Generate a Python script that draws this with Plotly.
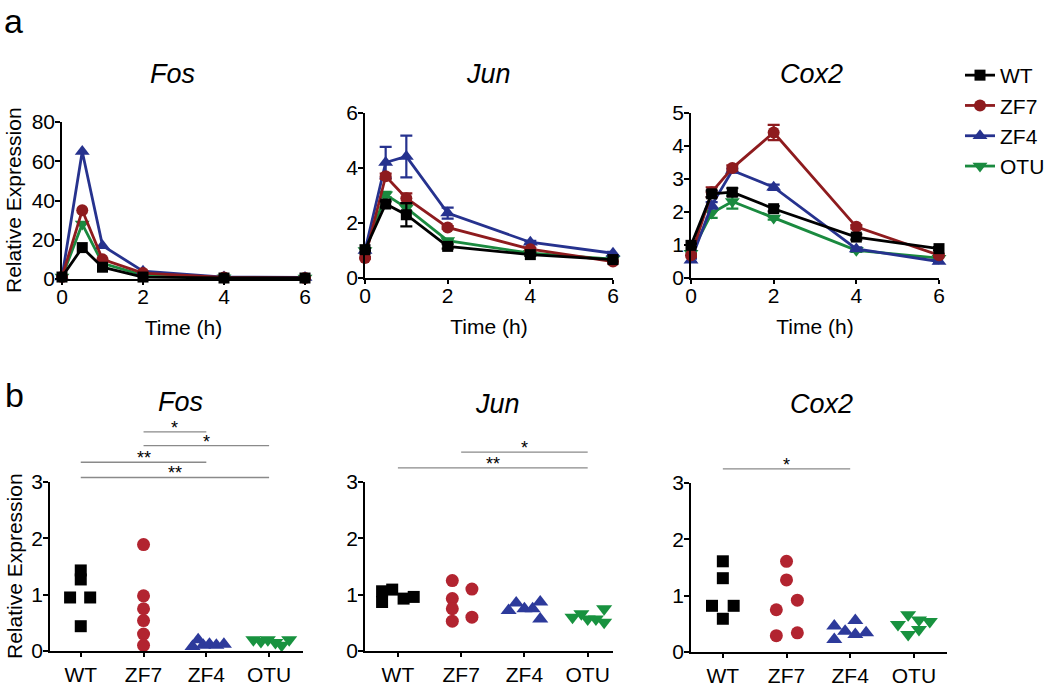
import plotly.graph_objects as go

# ---------------- data ----------------
time_h = [0, 0.5, 1, 2, 4, 6]
groups = ["WT", "ZF7", "ZF4", "OTU"]

# panel a: time course (mean, sem)
fos_wt = [1, 16, 6, 1, 0.5, 0.5]
fos_zf7 = [1, 35, 10, 3, 0.8, 0.5]
fos_zf4 = [1, 65, 17, 4, 1, 0.8]
fos_otu = [1, 28, 8, 2, 0.6, 0.5]

jun_wt = [1.03, 2.69, 2.3, 1.15, 0.85, 0.67]
jun_zf7 = [0.73, 3.7, 2.9, 1.84, 1.05, 0.6]
jun_zf4 = [1.0, 4.2, 4.42, 2.36, 1.3, 0.9]
jun_otu = [1.0, 3.03, 2.55, 1.36, 0.9, 0.69]
jun_wt_err = [0.05, 0.1, 0.42, 0.08, 0.05, 0.03]
jun_zf7_err = [0.03, 0.1, 0.18, 0.05, 0.05, 0.03]
jun_zf4_err = [0.05, 0.57, 0.76, 0.2, 0.05, 0.05]
jun_otu_err = [0.03, 0.1, 0.12, 0.05, 0.03, 0.03]

cox2_wt = [0.99, 2.55, 2.6, 2.1, 1.24, 0.89]
cox2_zf7 = [0.69, 2.6, 3.33, 4.41, 1.55, 0.69]
cox2_zf4 = [0.54, 2.2, 3.26, 2.75, 0.88, 0.5]
cox2_otu = [0.75, 1.97, 2.32, 1.82, 0.84, 0.6]
cox2_wt_err = [0.05, 0.1, 0.12, 0.08, 0.08, 0.05]
cox2_zf7_err = [0.05, 0.15, 0.08, 0.23, 0.05, 0.05]
cox2_zf4_err = [0.05, 0.1, 0.05, 0.08, 0.05, 0.05]
cox2_otu_err = [0.05, 0.15, 0.22, 0.05, 0.05, 0.05]

# panel b: individual values (value, jitter within category)
fosb_wt = [1.43, 1.27, 0.95, 0.95, 0.44]
fosb_wt_dx = [0, 0, -0.17, 0.15, 0]
fosb_zf7 = [1.89, 0.98, 0.75, 0.54, 0.3, 0.1]
fosb_zf7_dx = [0, 0, 0, 0, 0, 0]
fosb_zf4 = [0.08, 0.2, 0.1, 0.12, 0.1, 0.12]
fosb_zf4_dx = [-0.22, -0.13, -0.05, 0.05, 0.16, 0.28]
fosb_otu = [0.2, 0.17, 0.2, 0.15, 0.1, 0.2]
fosb_otu_dx = [-0.25, -0.13, -0.02, 0.1, 0.2, 0.32]

junb_wt = [0.87, 1.06, 1.09, 0.93, 0.96]
junb_wt_dx = [-0.25, -0.25, -0.09, 0.09, 0.25]
junb_zf7 = [1.25, 0.93, 0.75, 0.53, 1.1, 0.6]
junb_zf7_dx = [-0.14, -0.14, -0.14, -0.14, 0.17, 0.17]
junb_zf4 = [0.72, 0.85, 0.75, 0.75, 0.87, 0.57]
junb_zf4_dx = [-0.25, -0.13, 0, 0.13, 0.25, 0.25]
junb_otu = [0.6, 0.66, 0.57, 0.57, 0.75, 0.51]
junb_otu_dx = [-0.24, -0.1, 0, 0.13, 0.26, 0.26]

coxb_wt = [1.61, 1.31, 0.82, 0.82, 0.59]
coxb_wt_dx = [0, 0, -0.17, 0.17, 0]
coxb_zf7 = [1.61, 1.28, 0.92, 0.75, 0.29, 0.34]
coxb_zf7_dx = [0, 0, 0.17, -0.16, -0.16, 0.17]
coxb_zf4 = [0.22, 0.46, 0.37, 0.56, 0.31, 0.34]
coxb_zf4_dx = [-0.25, -0.25, -0.08, 0.08, 0.08, 0.25]
coxb_otu = [0.49, 0.66, 0.31, 0.57, 0.4, 0.54]
coxb_otu_dx = [-0.25, -0.09, -0.09, 0.08, 0.08, 0.25]

# significance comparisons: (group a, group b, level, label)
fos_sig = [("ZF7", "ZF4", 3.89, "*"), ("ZF7", "OTU", 3.645, "*"),
           ("WT", "ZF4", 3.35, "**"), ("WT", "OTU", 3.08, "**")]
jun_sig = [("ZF7", "OTU", 3.53, "*"), ("WT", "OTU", 3.25, "**")]
cox_sig = [("WT", "ZF4", 3.25, "*")]

# ---------------- style ----------------
W, H = 1050, 687
FONT = "Liberation Sans, Arial, Helvetica, sans-serif"
line_col = {"WT": "#000000", "ZF7": "#8E1B1E", "ZF4": "#26328E", "OTU": "#1A8A3F"}
dot_col = {"WT": "#000000", "ZF7": "#B22430", "ZF4": "#2D3A9B", "OTU": "#18923F"}
symbols = {"WT": "square", "ZF7": "circle", "ZF4": "triangle-up", "OTU": "triangle-down"}
msize = {"WT": 11, "ZF7": 12, "ZF4": 13, "OTU": 13}


def px_x(p):
    return p / W


def px_y(p):
    return 1 - p / H


fig = go.Figure()

top = [
    ("x", "y", {"WT": (fos_wt, None), "ZF7": (fos_zf7, None), "ZF4": (fos_zf4, None), "OTU": (fos_otu, None)}),
    ("x2", "y2", {"WT": (jun_wt, jun_wt_err), "ZF7": (jun_zf7, jun_zf7_err),
                  "ZF4": (jun_zf4, jun_zf4_err), "OTU": (jun_otu, jun_otu_err)}),
    ("x3", "y3", {"WT": (cox2_wt, cox2_wt_err), "ZF7": (cox2_zf7, cox2_zf7_err),
                  "ZF4": (cox2_zf4, cox2_zf4_err), "OTU": (cox2_otu, cox2_otu_err)}),
]
draw_order = ["OTU", "ZF4", "ZF7", "WT"]
rank = {g: i for i, g in enumerate(groups)}
for pi, (xa, ya, series) in enumerate(top):
    for g in draw_order:
        vals, err = series[g]
        fig.add_trace(go.Scatter(
            x=time_h, y=vals, xaxis=xa, yaxis=ya, name=g,
            mode="lines+markers", cliponaxis=False,
            line=dict(color=line_col[g], width=2.8),
            marker=dict(symbol=symbols[g], size=msize[g], color=line_col[g]),
            error_y=dict(type="data", array=err, visible=err is not None,
                         color=line_col[g], thickness=2.2, width=6),
            showlegend=(pi == 2), legendrank=rank[g],
        ))

bottom = [
    ("x4", "y4", {"WT": (fosb_wt, fosb_wt_dx), "ZF7": (fosb_zf7, fosb_zf7_dx),
                  "ZF4": (fosb_zf4, fosb_zf4_dx), "OTU": (fosb_otu, fosb_otu_dx)}, fos_sig),
    ("x5", "y5", {"WT": (junb_wt, junb_wt_dx), "ZF7": (junb_zf7, junb_zf7_dx),
                  "ZF4": (junb_zf4, junb_zf4_dx), "OTU": (junb_otu, junb_otu_dx)}, jun_sig),
    ("x6", "y6", {"WT": (coxb_wt, coxb_wt_dx), "ZF7": (coxb_zf7, coxb_zf7_dx),
                  "ZF4": (coxb_zf4, coxb_zf4_dx), "OTU": (coxb_otu, coxb_otu_dx)}, cox_sig),
]
shapes = []
annotations = []
for xa, ya, series, sig in bottom:
    for gi, g in enumerate(groups):
        vals, dx = series[g]
        fig.add_trace(go.Scatter(
            x=[gi + d for d in dx], y=vals, xaxis=xa, yaxis=ya, mode="markers",
            cliponaxis=False, showlegend=False, name=g,
            marker=dict(symbol=symbols[g], size=msize[g] + 1, color=dot_col[g]),
        ))
    for a, b, lvl, lab in sig:
        xa_i, xb_i = groups.index(a), groups.index(b)
        shapes.append(dict(type="line", xref=xa, yref=ya + " domain",
                           x0=xa_i, x1=xb_i, y0=lvl / 3, y1=lvl / 3,
                           line=dict(color="#8a8a8a", width=1.4)))
        annotations.append(dict(xref=xa, yref=ya + " domain", x=(xa_i + xb_i) / 2, y=lvl / 3,
                                text=lab, showarrow=False, yanchor="middle", yshift=4,
                                font=dict(size=18, color="black", family=FONT)))

TF = 21
axis_common = dict(showline=True, linecolor="black", linewidth=1.5, ticks="outside",
                   ticklen=5, tickwidth=1.5, tickcolor="black", showgrid=False,
                   zeroline=False, tickfont=dict(size=TF, color="black", family=FONT))
ytick = dict(ticklabelstandoff=-4)
xtop = dict(ticklabelstandoff=-6, ticklen=4)

layout = dict(
    width=W, height=H, margin=dict(l=0, r=0, t=0, b=0, autoexpand=False),
    paper_bgcolor="white", plot_bgcolor="white",
    font=dict(family=FONT, color="black", size=TF),
    showlegend=True,
    legend=dict(x=px_x(960), y=px_y(55), xanchor="left", yanchor="top",
                font=dict(size=TF, family=FONT, color="black"), bgcolor="rgba(0,0,0,0)",
                tracegroupgap=0),
)

time_title = dict(text="Time (h)", font=dict(size=TF, family=FONT, color="black"), standoff=13)
# top row
layout["xaxis"] = dict(axis_common, **xtop, domain=[px_x(62), px_x(305)], range=[0, 6],
                       tickvals=[0, 2, 4, 6], anchor="y", title=time_title)
layout["yaxis"] = dict(axis_common, **ytick, domain=[px_y(279), px_y(122)], range=[0, 80],
                       tickvals=[0, 20, 40, 60, 80], anchor="x")
layout["xaxis2"] = dict(axis_common, **xtop, domain=[px_x(365), px_x(613)], range=[0, 6],
                        tickvals=[0, 2, 4, 6], anchor="y2", title=time_title)
layout["yaxis2"] = dict(axis_common, **ytick, domain=[px_y(278), px_y(113)], range=[0, 6],
                        tickvals=[0, 2, 4, 6], anchor="x2")
layout["xaxis3"] = dict(axis_common, **xtop, domain=[px_x(691), px_x(939)], range=[0, 6],
                        tickvals=[0, 2, 4, 6], anchor="y3", title=time_title)
layout["yaxis3"] = dict(axis_common, **ytick, domain=[px_y(278), px_y(113)], range=[0, 5],
                        tickvals=[0, 1, 2, 3, 4, 5], anchor="x3")
# bottom row
cat_ticks = dict(tickvals=[0, 1, 2, 3], ticktext=groups, ticklen=4)
layout["xaxis4"] = dict(axis_common, **cat_ticks, domain=[px_x(50), px_x(303)],
                        range=[-0.49, 3.54], anchor="y4")
layout["yaxis4"] = dict(axis_common, **ytick, domain=[px_y(651), px_y(482)], range=[0, 3],
                        tickvals=[0, 1, 2, 3], anchor="x4")
layout["xaxis5"] = dict(axis_common, **cat_ticks, domain=[px_x(365), px_x(613)],
                        range=[-0.52, 3.4], anchor="y5")
layout["yaxis5"] = dict(axis_common, **ytick, domain=[px_y(651), px_y(482)], range=[0, 3],
                        tickvals=[0, 1, 2, 3], anchor="x5")
layout["xaxis6"] = dict(axis_common, **cat_ticks, domain=[px_x(691), px_x(947)],
                        range=[-0.5, 3.52], anchor="y6")
layout["yaxis6"] = dict(axis_common, **ytick, domain=[px_y(652), px_y(483)], range=[0, 3],
                        tickvals=[0, 1, 2, 3], anchor="x6")


def note(text, x, y, size, angle=0):
    return dict(xref="paper", yref="paper", x=px_x(x), y=px_y(y), text=text,
                showarrow=False, xanchor="center", yanchor="middle", textangle=angle,
                font=dict(size=size, family=FONT, color="black"))


annotations += [
    note("a", 13, 21, 34), note("b", 14, 395, 34),
    note("<i>Fos</i>", 172, 74, 27), note("<i>Jun</i>", 488, 74, 27), note("<i>Cox2</i>", 811, 74, 27),
    note("<i>Fos</i>", 180, 402, 27), note("<i>Jun</i>", 497, 404, 27), note("<i>Cox2</i>", 821, 404, 27),
    note("Relative Expression", 14, 200, TF, -90),
    note("Relative Expression", 14, 566, TF, -90),
]
layout["shapes"] = shapes
layout["annotations"] = annotations
fig.update_layout(**layout)

fig.write_html("out.html", config={"displayModeBar": False},
               post_script="document.body.style.margin='0px';document.body.style.overflow='hidden';")
